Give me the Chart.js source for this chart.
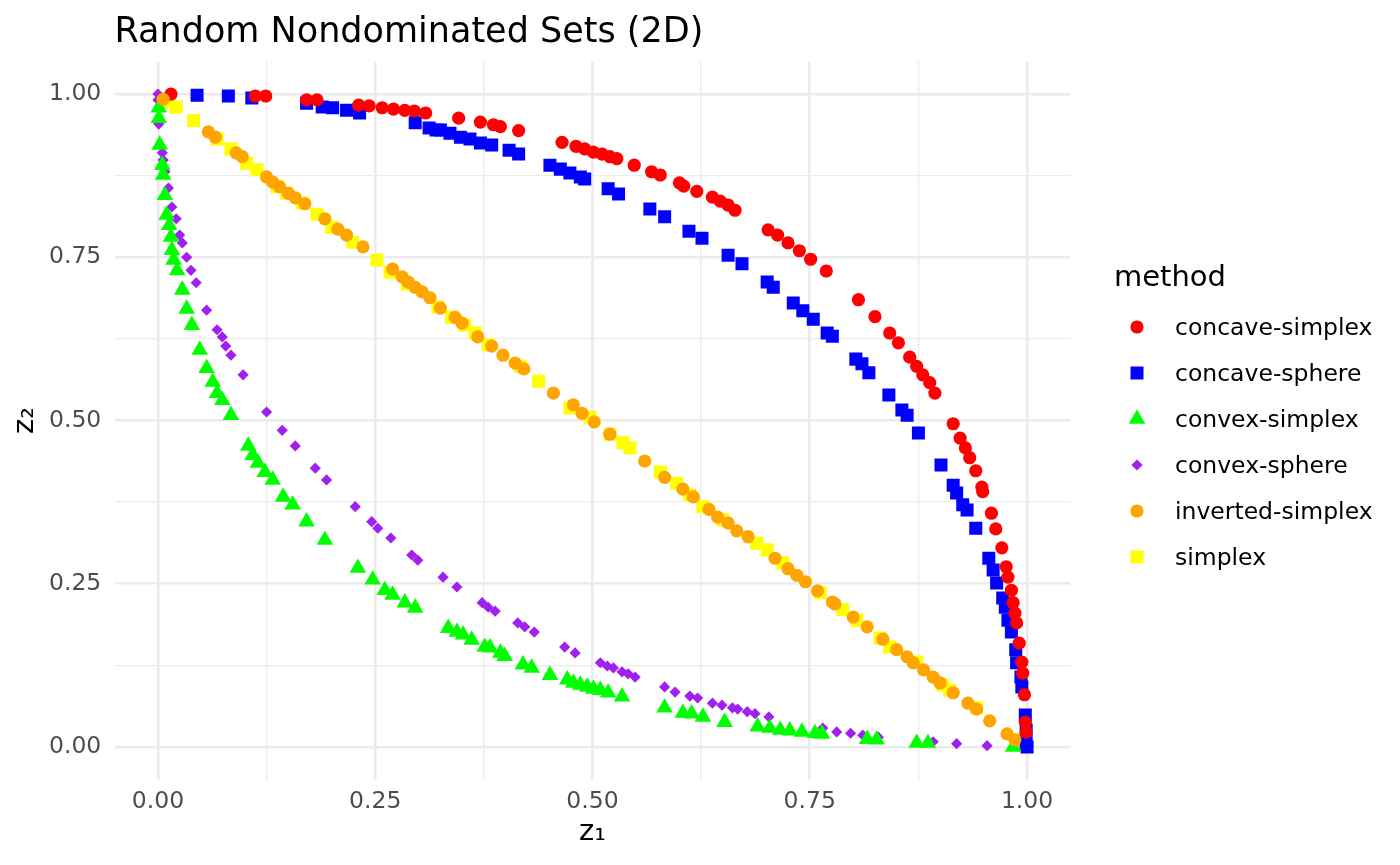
<!DOCTYPE html>
<html>
<head>
<meta charset="utf-8">
<script src="https://cdn.jsdelivr.net/npm/chart.js@4/dist/chart.umd.min.js"></script>
<style>
  body { margin: 0; background: #fff; }
  canvas { display: block; }
</style>
</head>
<body>
<canvas id="frontChart" width="1400" height="865"></canvas>
<script>
// points, [z1, z2]
const concaveSimplex = [
  [0.015,1.000],[0.112,0.997],[0.124,0.997],[0.171,0.991],[0.183,0.991],
  [0.231,0.983],[0.243,0.982],[0.258,0.979],[0.271,0.977],[0.284,0.975],[0.295,0.974],[0.308,0.971],
  [0.346,0.963],[0.371,0.957],[0.386,0.953],[0.394,0.950],[0.415,0.944],
  [0.465,0.926],[0.481,0.920],[0.491,0.916],[0.501,0.911],[0.511,0.908],[0.520,0.904],[0.528,0.901],
  [0.548,0.891],[0.568,0.881],[0.578,0.876],[0.600,0.864],[0.605,0.859],[0.620,0.851],[0.638,0.842],
  [0.647,0.836],[0.656,0.830],[0.664,0.822],
  [0.702,0.792],[0.713,0.784],[0.725,0.772],[0.738,0.760],[0.751,0.747],[0.769,0.729],
  [0.806,0.685],[0.825,0.659],[0.842,0.634],[0.852,0.619],[0.865,0.597],[0.873,0.583],[0.880,0.570],
  [0.888,0.558],[0.894,0.542],
  [0.915,0.495],[0.923,0.473],[0.929,0.458],[0.934,0.443],[0.941,0.423],[0.948,0.398],[0.949,0.391],
  [0.959,0.358],[0.964,0.334],[0.971,0.305],[0.976,0.276],[0.978,0.260],[0.982,0.240],[0.984,0.221],
  [0.986,0.205],[0.988,0.190],[0.991,0.159],[0.994,0.130],[0.995,0.113],[0.997,0.080],[0.998,0.038],
  [0.999,0.023]
];
const concaveSphere = [
  [0.045,0.998],[0.081,0.997],[0.108,0.994],[0.171,0.986],[0.189,0.980],[0.201,0.979],[0.217,0.975],
  [0.232,0.971],[0.296,0.956],[0.312,0.948],[0.320,0.945],[0.325,0.945],[0.336,0.940],[0.348,0.934],
  [0.359,0.931],[0.371,0.925],[0.384,0.922],[0.404,0.914],[0.415,0.908],[0.451,0.891],[0.463,0.885],
  [0.474,0.879],[0.486,0.873],[0.491,0.870],[0.518,0.855],[0.530,0.847],[0.566,0.824],[0.583,0.812],
  [0.611,0.790],[0.626,0.779],[0.656,0.753],[0.672,0.740],[0.701,0.712],[0.708,0.704],[0.731,0.680],
  [0.742,0.668],[0.754,0.655],[0.770,0.634],[0.776,0.629],[0.803,0.594],[0.810,0.587],[0.818,0.573],
  [0.841,0.539],[0.856,0.516],[0.862,0.508],[0.875,0.481],[0.901,0.432],[0.915,0.401],[0.919,0.389],
  [0.926,0.371],[0.931,0.363],[0.941,0.335],[0.956,0.289],[0.961,0.271],[0.965,0.251],[0.972,0.228],
  [0.975,0.214],[0.978,0.194],[0.982,0.176],[0.987,0.149],[0.988,0.129],[0.993,0.107],[0.994,0.092],
  [0.998,0.049],[0.999,0.026],[0.999,0.006],[1.000,0.000]
];
const convexSimplex = [
  [0.001,0.979],[0.001,0.963],[0.002,0.922],[0.005,0.891],[0.006,0.876],[0.008,0.845],[0.010,0.815],
  [0.013,0.799],[0.015,0.781],[0.016,0.761],[0.018,0.746],[0.022,0.730],[0.028,0.700],[0.033,0.671],
  [0.039,0.646],[0.048,0.608],[0.056,0.580],[0.063,0.559],[0.068,0.542],[0.074,0.531],[0.084,0.508],
  [0.104,0.461],[0.109,0.447],[0.115,0.435],[0.123,0.421],[0.132,0.409],[0.144,0.383],[0.155,0.371],
  [0.171,0.345],[0.192,0.317],[0.230,0.274],[0.247,0.256],[0.261,0.240],[0.270,0.233],[0.284,0.221],
  [0.296,0.213],[0.334,0.182],[0.344,0.176],[0.351,0.172],[0.361,0.164],[0.376,0.153],[0.382,0.152],
  [0.394,0.144],[0.399,0.139],[0.420,0.126],[0.430,0.121],[0.451,0.110],[0.471,0.103],[0.478,0.098],
  [0.486,0.095],[0.494,0.092],[0.501,0.089],[0.509,0.087],[0.518,0.083],[0.534,0.077],[0.583,0.060],
  [0.604,0.052],[0.614,0.051],[0.627,0.046],[0.652,0.038],[0.690,0.031],[0.704,0.029],[0.716,0.026],
  [0.727,0.025],[0.741,0.023],[0.756,0.021],[0.764,0.020],[0.816,0.012],[0.827,0.011],[0.873,0.006],
  [0.886,0.006],[0.984,0.000]
];
const convexSphere = [
  [0.000,1.000],[0.000,0.991],[0.001,0.954],[0.005,0.910],[0.006,0.899],[0.008,0.881],[0.012,0.856],
  [0.016,0.827],[0.021,0.809],[0.025,0.784],[0.028,0.772],[0.033,0.750],[0.038,0.730],[0.044,0.711],
  [0.056,0.669],[0.068,0.639],[0.074,0.628],[0.078,0.614],[0.084,0.600],[0.098,0.570],[0.125,0.513],
  [0.143,0.485],[0.158,0.461],[0.181,0.427],[0.194,0.409],[0.227,0.368],[0.246,0.345],[0.253,0.335],
  [0.268,0.320],[0.292,0.294],[0.299,0.286],[0.328,0.260],[0.344,0.245],[0.373,0.221],[0.380,0.214],
  [0.388,0.208],[0.414,0.190],[0.422,0.184],[0.433,0.176],[0.468,0.153],[0.480,0.144],[0.509,0.129],
  [0.517,0.124],[0.524,0.121],[0.534,0.115],[0.541,0.112],[0.549,0.107],[0.583,0.092],[0.595,0.084],
  [0.612,0.078],[0.621,0.075],[0.638,0.067],[0.649,0.064],[0.661,0.060],[0.667,0.058],[0.678,0.054],
  [0.687,0.051],[0.703,0.046],[0.765,0.029],[0.781,0.023],[0.797,0.021],[0.811,0.018],[0.829,0.015],
  [0.892,0.008],[0.919,0.005],[0.954,0.002]
];
const invertedSimplex = [
  [0.006,0.992],[0.058,0.942],[0.066,0.934],[0.090,0.910],[0.097,0.904],[0.125,0.873],[0.132,0.865],
  [0.140,0.858],[0.150,0.848],[0.158,0.841],[0.169,0.832],[0.192,0.809],[0.207,0.793],[0.217,0.784],
  [0.236,0.766],[0.270,0.732],[0.281,0.720],[0.288,0.712],[0.296,0.704],[0.304,0.697],[0.313,0.688],
  [0.325,0.672],[0.342,0.658],[0.350,0.649],[0.368,0.628],[0.384,0.614],[0.397,0.600],[0.411,0.588],
  [0.421,0.579],[0.455,0.542],[0.478,0.524],[0.488,0.511],[0.502,0.498],[0.520,0.479],[0.560,0.438],
  [0.583,0.413],[0.604,0.395],[0.616,0.383],[0.634,0.364],[0.644,0.352],[0.656,0.343],[0.666,0.331],
  [0.679,0.322],[0.710,0.289],[0.725,0.273],[0.735,0.263],[0.745,0.253],[0.759,0.239],[0.776,0.222],
  [0.779,0.219],[0.800,0.199],[0.816,0.184],[0.834,0.165],[0.850,0.149],[0.862,0.138],[0.869,0.129],
  [0.881,0.118],[0.892,0.107],[0.900,0.098],[0.915,0.083],[0.932,0.067],[0.942,0.058],[0.957,0.040],
  [0.977,0.020],[0.986,0.011]
];
const simplex = [
  [0.012,0.988],[0.021,0.980],[0.041,0.959],[0.068,0.931],[0.084,0.916],[0.102,0.894],[0.114,0.884],
  [0.137,0.858],[0.148,0.848],[0.166,0.833],[0.183,0.816],[0.200,0.796],[0.224,0.773],[0.252,0.746],
  [0.267,0.727],[0.287,0.709],[0.322,0.674],[0.338,0.658],[0.353,0.646],[0.365,0.634],[0.380,0.616],
  [0.417,0.583],[0.438,0.560],[0.474,0.519],[0.497,0.505],[0.520,0.479],[0.535,0.466],[0.543,0.458],
  [0.578,0.421],[0.597,0.404],[0.612,0.386],[0.627,0.368],[0.650,0.348],[0.689,0.312],[0.701,0.302],
  [0.719,0.282],[0.762,0.236],[0.788,0.210],[0.804,0.194],[0.831,0.167],[0.842,0.153],[0.873,0.130],
  [0.903,0.095],[0.911,0.087],[0.942,0.060],[0.988,0.011]
];

const methods = ['concave-simplex', 'concave-sphere', 'convex-simplex', 'convex-sphere', 'inverted-simplex', 'simplex'];
const methodPoints = [concaveSimplex, concaveSphere, convexSimplex, convexSphere, invertedSimplex, simplex];
const methodColors = ['#FF0000', '#0000FF', '#00FF00', '#A020F0', '#FFA500', '#FFFF00'];
const methodShapes = ['circle', 'rect', 'triangle', 'rectRot', 'circle', 'rect'];
const shapeSizes = [6.6, 9.2, 9.6, 5.6, 6.6, 9.2];
const drawOrder = [2, 5, 3, 4, 1, 6]; // lower = on top

const gridTicks = [0, 0.125, 0.25, 0.375, 0.5, 0.625, 0.75, 0.875, 1];
const majorTicks = [0, 0.25, 0.5, 0.75, 1];

const FONT = '"DejaVu Sans", sans-serif';

const datasets = methods.map((m, i) => ({
  label: m,
  data: methodPoints[i].map(p => ({ x: p[0], y: p[1] })),
  backgroundColor: methodColors[i],
  pointStyle: methodShapes[i],
  pointRadius: shapeSizes[i],
  pointHoverRadius: shapeSizes[i],
  borderWidth: 0,
  order: drawOrder[i]
}));

// ggplot-like legend at the right
const sideLegend = {
  id: 'sideLegend',
  afterDraw(chart) {
    const ctx = chart.ctx;
    const left = chart.chartArea.right + 43.5;
    ctx.save();
    ctx.textBaseline = 'alphabetic';
    ctx.textAlign = 'left';
    ctx.fillStyle = '#000';
    ctx.font = '29px ' + FONT;
    ctx.fillText('method', left, 286);
    ctx.font = '23.5px ' + FONT;
    chart.data.datasets.forEach((ds, i) => {
      const y = 327 + i * 46;
      ctx.fillStyle = ds.backgroundColor;
      Chart.helpers.drawPoint(ctx, {
        pointStyle: ds.pointStyle, radius: ds.pointRadius, rotation: 0, borderWidth: 0
      }, left + 23, y);
      ctx.fillStyle = '#000';
      ctx.fillText(ds.label, left + 61, y + 8);
    });
    ctx.restore();
  }
};

const gridOpts = {
  color: '#EBEBEB',
  lineWidth: c => (c.tick && majorTicks.includes(c.tick.value)) ? 2.6 : 1.3,
  drawTicks: false
};

new Chart(document.getElementById('frontChart'), {
  type: 'scatter',
  data: { datasets },
  plugins: [sideLegend],
  options: {
    responsive: false,
    animation: false,
    layout: { padding: { left: 0, right: 329.5, top: 0, bottom: 0 } },
    plugins: {
      legend: { display: false },
      tooltip: { enabled: false },
      title: {
        display: true,
        text: 'Random Nondominated Sets (2D)',
        align: 'start',
        fullSize: false,
        color: '#000',
        font: { family: FONT, size: 35, weight: 'normal', lineHeight: 1.2 },
        padding: { top: 12, bottom: 7.4 }
      }
    },
    scales: {
      x: {
        type: 'linear',
        min: -0.05,
        max: 1.05,
        afterBuildTicks: s => { s.ticks = gridTicks.map(v => ({ value: v })); },
        afterFit: s => { s.height = 85.4; },
        border: { display: false },
        grid: gridOpts,
        ticks: {
          autoSkip: false,
          maxRotation: 0,
          padding: 8,
          color: '#4D4D4D',
          font: { family: FONT, size: 23.5 },
          callback: v => majorTicks.includes(v) ? v.toFixed(2) : ''
        },
        title: {
          display: true,
          text: 'z₁',
          color: '#000',
          font: { family: FONT, size: 29, lineHeight: 1.2 },
          padding: { top: 0, bottom: 15.6 }
        }
      },
      y: {
        type: 'linear',
        min: -0.05,
        max: 1.05,
        afterBuildTicks: s => { s.ticks = gridTicks.map(v => ({ value: v })); },
        afterFit: s => { s.width = 114.5; },
        border: { display: false },
        grid: gridOpts,
        ticks: {
          autoSkip: false,
          padding: 13.2,
          color: '#4D4D4D',
          font: { family: FONT, size: 23.5 },
          callback: v => majorTicks.includes(v) ? v.toFixed(2) : ''
        },
        title: {
          display: true,
          text: 'z₂',
          color: '#000',
          font: { family: FONT, size: 29, lineHeight: 1.2 },
          padding: { top: 7.6, bottom: 0 }
        }
      }
    }
  }
});
</script>
</body>
</html>
